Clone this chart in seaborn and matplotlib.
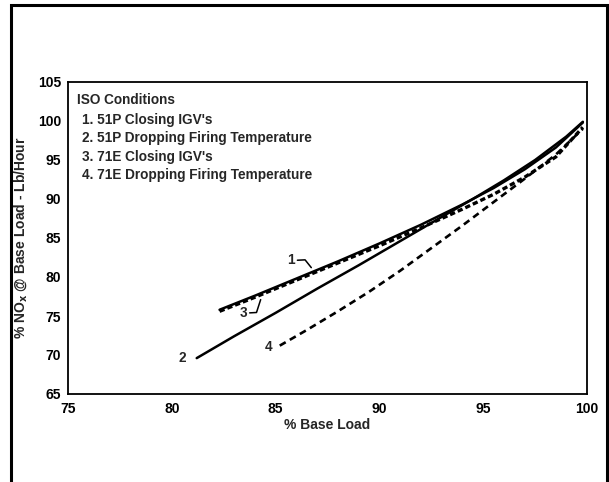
import matplotlib
matplotlib.use("Agg")
import matplotlib.pyplot as plt
import matplotlib.patches as patches
import seaborn as sns
import pandas as pd

# ---- data ----
c1_x = [82.3, 84, 86, 88, 90, 92, 94, 95.5, 97, 98.5, 99.8]
c1_y = [75.8, 77.6, 79.8, 82.0, 84.3, 86.7, 89.3, 91.4, 93.8, 96.6, 99.8]

c2_x = [81.2, 83, 85, 87, 89, 91, 93, 94.5, 96, 97.5, 99, 99.8]
c2_y = [69.6, 72.4, 75.4, 78.5, 81.5, 84.6, 87.7, 90.0, 92.4, 95.0, 98.0, 99.9]

c3_x = [82.3, 84, 86, 88, 90, 92, 94, 95.5, 97, 98.5, 99.8]
c3_y = [75.6, 77.4, 79.6, 81.8, 84.0, 86.3, 88.7, 90.6, 92.8, 95.4, 99.2]

c4_x = [85.2, 86.5, 88, 89.5, 91, 92.5, 94, 95.5, 97, 98.5, 99.8]
c4_y = [71.2, 73.2, 75.6, 78.1, 80.8, 83.7, 86.6, 89.6, 92.6, 95.7, 99.0]

x_ticks = [75, 80, 85, 90, 95, 100]
y_ticks = [65, 70, 75, 80, 85, 90, 95, 100, 105]

legend_title = "ISO Conditions"
legend_items = ["1. 51P Closing IGV's",
                "2. 51P Dropping Firing Temperature",
                "3. 71E Closing IGV's",
                "4. 71E Dropping Firing Temperature"]

curve_labels = ["1", "2", "3", "4"]

# ---- plotting ----
sns.set_style("white")
plt.rcParams['font.family'] = ['Liberation Sans', 'DejaVu Sans']
plt.rcParams['font.weight'] = 'bold'
plt.rcParams['mathtext.default'] = 'regular'

fig = plt.figure(figsize=(6.09, 4.82), dpi=100)
ax = fig.add_axes([68/609, 1-394/482, (587-68)/609, (394-82)/482])

df1 = pd.DataFrame({"x": c1_x, "y": c1_y})
df2 = pd.DataFrame({"x": c2_x, "y": c2_y})
df3 = pd.DataFrame({"x": c3_x, "y": c3_y})
df4 = pd.DataFrame({"x": c4_x, "y": c4_y})

sns.lineplot(data=df1, x="x", y="y", ax=ax, color="black", linewidth=1.8,
             sort=False, estimator=None)
sns.lineplot(data=df2, x="x", y="y", ax=ax, color="black", linewidth=1.8,
             sort=False, estimator=None)
sns.lineplot(data=df3, x="x", y="y", ax=ax, color="black", linewidth=2.4,
             linestyle=(0, (1.6, 0.9)), sort=False, estimator=None)
sns.lineplot(data=df4, x="x", y="y", ax=ax, color="black", linewidth=1.9,
             linestyle=(0, (2.6, 1.8)), sort=False, estimator=None)

ax.set_xlim(75, 100)
ax.set_ylim(65, 105)
ax.set_xticks(x_ticks)
ax.set_yticks(y_ticks)
ax.tick_params(direction="in", length=5, width=1.2, labelsize=10, pad=5,
               colors="black")
ax.tick_params(axis="x", pad=6)
for lab in ax.get_xticklabels() + ax.get_yticklabels():
    lab.set_fontweight("bold")
for s in ax.spines.values():
    s.set_visible(True)
    s.set_color("black")
    s.set_linewidth(1.3)

ax.set_xlabel("% Base Load", fontsize=10, labelpad=1, fontweight="bold")
ax.set_ylabel(r"% NO$_{\mathbf{x}}$ @ Base Load - Lb/Hour", fontsize=10,
              labelpad=6, fontweight="bold")

# legend block as text
ax.text(0.017, 0.942, legend_title, transform=ax.transAxes, fontsize=9.8,
        va="center", ha="left", fontweight="bold")
item_y = [0.878, 0.8205, 0.760, 0.702]
for t, yy in zip(legend_items, item_y):
    ax.text(0.027, yy, t, transform=ax.transAxes, fontsize=9.8,
            va="center", ha="left", fontweight="bold")

# curve labels with hooks
ax.text(85.75, 82.2, curve_labels[0], fontsize=9.8, ha="center", va="center",
        fontweight="bold")
ax.plot([86.05, 86.42, 86.72], [82.15, 82.2, 81.2], color="black", lw=1.1)
ax.text(80.5, 69.6, curve_labels[1], fontsize=9.8, ha="center", va="center",
        fontweight="bold")
ax.text(83.45, 75.4, curve_labels[2], fontsize=9.8, ha="center", va="center",
        fontweight="bold")
ax.plot([83.75, 84.08, 84.28], [75.4, 75.45, 77.1], color="black", lw=1.1)
ax.text(84.68, 71.0, curve_labels[3], fontsize=9.8, ha="center", va="center",
        fontweight="bold")

# outer frame
frame = patches.Rectangle((11/609, -0.05), (607-11)/609, 1.05 - 5/482,
                          transform=fig.transFigure, fill=False,
                          edgecolor="black", linewidth=2.2, clip_on=False)
fig.patches.append(frame)

fig.savefig("out.png", dpi=100)
